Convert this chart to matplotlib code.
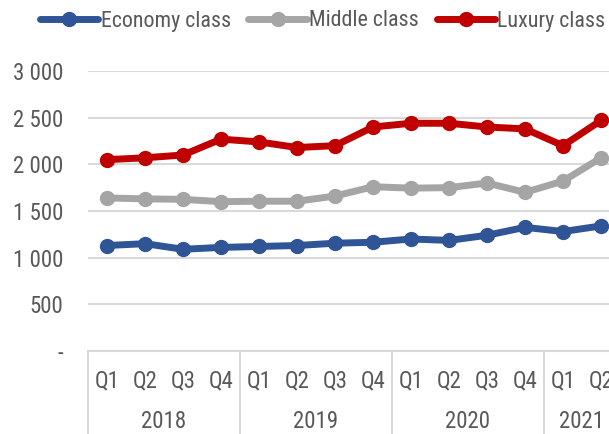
import matplotlib
matplotlib.use("Agg")
import matplotlib.pyplot as plt
import matplotlib.transforms as mtransforms
from matplotlib import font_manager
from matplotlib.ticker import FuncFormatter

# prefer a narrow sans face when one is installed
available = {f.name for f in font_manager.fontManager.ttflist}
narrow = [n for n in ["Liberation Sans Narrow", "Arial Narrow", "Roboto Condensed",
                      "Open Sans Condensed", "Noto Sans Condensed"] if n in available]
if narrow:
    plt.rcParams['font.family'] = [narrow[0], 'DejaVu Sans']
    fs, fs_leg = 16.5, 15.8
else:
    plt.rcParams['font.family'] = ['Liberation Sans', 'DejaVu Sans']
    fs, fs_leg = 15.5, 14.2

quarters = ["Q1", "Q2", "Q3", "Q4", "Q1", "Q2", "Q3", "Q4",
            "Q1", "Q2", "Q3", "Q4", "Q1", "Q2"]
years = ["2018", "2019", "2020", "2021"]
year_quarters = [4, 4, 4, 2]

economy = [1130, 1150, 1090, 1110, 1120, 1130, 1155, 1165,
           1200, 1185, 1240, 1325, 1280, 1340]
middle = [1640, 1630, 1625, 1600, 1605, 1605, 1660, 1760,
          1745, 1750, 1800, 1700, 1820, 2070]
luxury = [2050, 2070, 2100, 2270, 2240, 2180, 2200, 2400,
          2440, 2440, 2400, 2380, 2200, 2470]

series = [
    ("Economy class", economy, "#2F5597"),
    ("Middle class", middle, "#A5A5A5"),
    ("Luxury class", luxury, "#C00000"),
]

text_color = "#595959"
grid_color = "#D9D9D9"

W, H = 609, 434
fig = plt.figure(figsize=(W / 100, H / 100), dpi=100)
ax = fig.add_axes([88 / W, (H - 351) / H, 532 / W, 280 / H])

x = list(range(len(quarters)))
for name, vals, col in series:
    ax.plot(x, vals, color=col, lw=5, marker="o", markersize=10,
            solid_capstyle="round", label=name, clip_on=False, zorder=3)

ax.set_xlim(-0.5, len(quarters) - 0.5)
ax.set_ylim(0, 3000)
ax.set_yticks(range(0, 3001, 500))
ax.yaxis.set_major_formatter(FuncFormatter(
    lambda v, p: "-" if v == 0 else f"{int(v):,}".replace(",", " ")))
ax.grid(axis="y", color=grid_color, lw=1.5, zorder=0)
ax.set_axisbelow(True)
for s in ["top", "right", "left"]:
    ax.spines[s].set_visible(False)
ax.spines["bottom"].set_color(grid_color)
ax.spines["bottom"].set_linewidth(1.5)

ax.set_xticks(x)
ax.set_xticklabels(quarters)
ax.tick_params(axis="both", length=0, labelsize=fs, labelcolor=text_color)
ax.tick_params(axis="y", pad=18)
ax.tick_params(axis="x", pad=13)

# year group labels and separators below the axis
trans = mtransforms.blended_transform_factory(ax.transData, ax.transAxes)
start = -0.5
ax.plot([start, start], [0, -0.35], transform=trans, color=grid_color,
        lw=1.5, clip_on=False)
for yr, n in zip(years, year_quarters):
    end = start + n
    ax.text((start + end) / 2, -0.252, yr, transform=trans, ha="center",
            va="center", fontsize=fs, color=text_color)
    ax.plot([end, end], [0, -0.35], transform=trans, color=grid_color,
            lw=1.5, clip_on=False)
    start = end

fig.legend(loc="center left", bbox_to_anchor=(40 / W, 1 - 21 / H), ncol=3,
           frameon=False, fontsize=fs_leg, labelcolor=text_color,
           handlelength=2.65, handletextpad=0.12, columnspacing=0.8,
           borderaxespad=0, borderpad=0)

fig.savefig("out.png", dpi=100)
